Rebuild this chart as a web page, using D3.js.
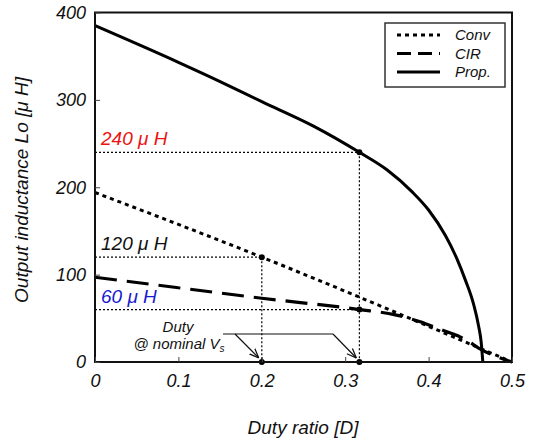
<!DOCTYPE html>
<html>
<head>
<meta charset="utf-8">
<script src="https://cdn.jsdelivr.net/npm/d3@7"></script>
<style>
  html, body { margin: 0; padding: 0; background: #fff; }
  svg { display: block; font-family: "Liberation Sans", Arial, sans-serif; }
  text { font-style: italic; }
</style>
</head>
<body>
<svg id="chart" width="538" height="441"></svg>
<script>
// Output inductance vs. duty ratio for three design approaches
const xTicks = [0, 0.1, 0.2, 0.3, 0.4, 0.5];
const yTicks = [0, 100, 200, 300, 400];

const convD = [0, 0.2, 0.5];
const convL = [194, 120, 0];

const cirD = [0, 0.1, 0.2, 0.317, 0.36, 0.39, 0.415, 0.435, 0.447, 0.46, 0.5];
const cirL = [97, 85, 73, 60, 54, 46, 37, 30, 24, 16, 0];

const propD = [0, 0.1, 0.15, 0.2, 0.262, 0.317, 0.35, 0.38, 0.4, 0.42, 0.434, 0.444, 0.454, 0.46, 0.463, 0.465];
const propL = [385, 343, 321, 298, 270, 240, 220, 195, 174, 145, 118, 94, 66, 41, 23, 0];

// operating points at nominal input voltage
const opD = [0.317, 0.2, 0.317];
const opL = [240, 120, 60];
const opText = ["240 μ H", "120 μ H", "60 μ H"];
const opColor = ["#ee1111", "#111111", "#1a1ad0"];

const legendNames = ["Conv", "CIR", "Prop."];

const svg = d3.select("#chart");
const x = d3.scaleLinear().domain([0, 0.5]).range([95, 512]);
const y = d3.scaleLinear().domain([0, 400]).range([362, 12.5]);

const zip = (a, b) => a.map((d, i) => [d, b[i]]);
const line = d3.line().x(d => x(d[0])).y(d => y(d[1])).curve(d3.curveMonotoneX);

// guide lines for the operating points
const g = svg.append("g");
opD.forEach((d, i) => {
  g.append("line")
    .attr("x1", x(0)).attr("x2", x(d))
    .attr("y1", y(opL[i])).attr("y2", y(opL[i]))
    .attr("stroke", "#000").attr("stroke-width", 1.2).attr("stroke-dasharray", "2,2");
});
[[0.317, 240], [0.2, 120]].forEach(p => {
  g.append("line")
    .attr("x1", x(p[0])).attr("x2", x(p[0]))
    .attr("y1", y(p[1])).attr("y2", y(0))
    .attr("stroke", "#000").attr("stroke-width", 1.2).attr("stroke-dasharray", "2,2");
});

// curves
svg.append("path").datum(zip(convD, convL)).attr("d", line)
  .attr("fill", "none").attr("stroke", "#000").attr("stroke-width", 3)
  .attr("stroke-dasharray", "4,4");
svg.append("path").datum(zip(cirD, cirL)).attr("d", line)
  .attr("fill", "none").attr("stroke", "#000").attr("stroke-width", 3.2)
  .attr("stroke-dasharray", "22,10");
svg.append("path").datum(zip(propD, propL)).attr("d", line)
  .attr("fill", "none").attr("stroke", "#000").attr("stroke-width", 3);

// markers
const dots = opD.map((d, i) => [d, opL[i]]).concat([[0.2, 0], [0.317, 0]]);
svg.selectAll("circle.op").data(dots).join("circle")
  .attr("cx", d => x(d[0])).attr("cy", d => y(d[1])).attr("r", 3).attr("fill", "#000");

// operating point labels
opText.forEach((t, i) => {
  svg.append("text").attr("x", 101).attr("y", y(opL[i]) - 7)
    .attr("font-size", 19).attr("fill", opColor[i]).text(t);
});

// frame
svg.append("rect").attr("x", x(0)).attr("y", y(400))
  .attr("width", x(0.5) - x(0)).attr("height", y(0) - y(400))
  .attr("fill", "none").attr("stroke", "#111").attr("stroke-width", 2);

// axes with inward ticks
const xAxis = svg.append("g").attr("transform", `translate(0,${y(0)})`)
  .call(d3.axisBottom(x).tickValues(xTicks).tickSize(-5).tickPadding(12)
    .tickFormat(d => d === 0 ? "0" : d3.format(".1f")(d)));
const yAxis = svg.append("g").attr("transform", `translate(${x(0)},0)`)
  .call(d3.axisLeft(y).tickValues(yTicks).tickSize(-5).tickPadding(9));
[xAxis, yAxis].forEach(a => {
  a.select(".domain").remove();
  a.selectAll(".tick line").attr("stroke", "#444");
  a.selectAll("text").attr("font-size", 18).attr("fill", "#111")
    .style("font-family", "'Liberation Sans', Arial, sans-serif");
});

// axis titles
svg.append("text").attr("x", 303).attr("y", 434).attr("text-anchor", "middle")
  .attr("font-size", 19).attr("fill", "#111").text("Duty ratio [D]");
svg.append("text").attr("transform", "translate(28,190) rotate(-90)")
  .attr("text-anchor", "middle").attr("font-size", 19).attr("fill", "#111")
  .text("Output inductance Lo [μ H]");

// nominal duty annotation
svg.append("text").attr("x", 178).attr("y", 332).attr("text-anchor", "middle")
  .attr("font-size", 15).attr("fill", "#111").text("Duty");
const nom = svg.append("text").attr("x", 179).attr("y", 349).attr("text-anchor", "middle")
  .attr("font-size", 15).attr("fill", "#111");
nom.append("tspan").text("@ nominal V");
nom.append("tspan").attr("font-size", 10).attr("dy", 3).text("s");

const defs = svg.append("defs");
defs.append("marker").attr("id", "arr").attr("viewBox", "0 0 10 10")
  .attr("refX", 10).attr("refY", 5).attr("markerWidth", 8).attr("markerHeight", 8)
  .attr("orient", "auto-start-reverse")
  .append("path").attr("d", "M0,1 L10,5 L0,9").attr("fill", "none").attr("stroke", "#111").attr("stroke-width", 1.3);

svg.append("line").attr("x1", 223).attr("x2", 333).attr("y1", 334).attr("y2", 334)
  .attr("stroke", "#111").attr("stroke-width", 1.2);
[[235, 0.2], [333, 0.317]].forEach(p => {
  svg.append("line").attr("x1", p[0]).attr("y1", 334)
    .attr("x2", x(p[1]) - 3).attr("y2", y(0) - 4)
    .attr("stroke", "#111").attr("stroke-width", 1.2).attr("marker-end", "url(#arr)");
});

// legend
const lg = svg.append("g");
lg.append("rect").attr("x", 385).attr("y", 23).attr("width", 120).attr("height", 64)
  .attr("fill", "#fff").attr("stroke", "#333").attr("stroke-width", 1.5);
const legendDash = ["4,4", "14,7", null];
legendNames.forEach((n, i) => {
  const yy = 35 + i * 18.5;
  const l = lg.append("line").attr("x1", 397).attr("x2", 440).attr("y1", yy).attr("y2", yy)
    .attr("stroke", "#000").attr("stroke-width", 3);
  if (legendDash[i]) l.attr("stroke-dasharray", legendDash[i]);
  lg.append("text").attr("x", 455).attr("y", yy + 5).attr("font-size", 15).attr("fill", "#111").text(n);
});
</script>
</body>
</html>
